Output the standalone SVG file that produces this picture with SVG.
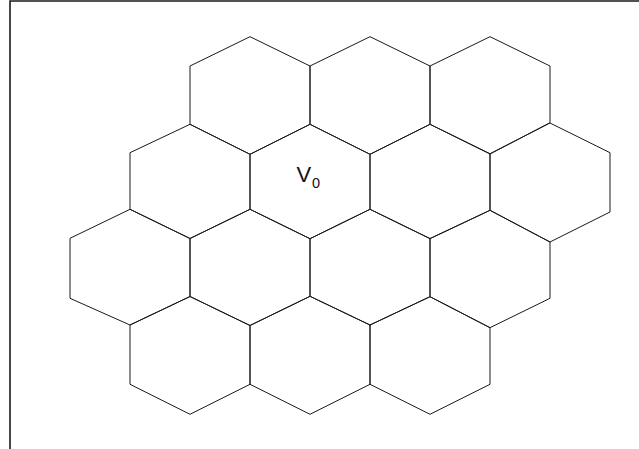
<svg xmlns="http://www.w3.org/2000/svg" width="639" height="449" viewBox="0 0 639 449">
<style>
.hex{fill:none;stroke:#1a1a1a;stroke-width:1;stroke-linejoin:miter}
.frame{fill:none;stroke:#1a1a1a;stroke-width:1.6}
.lbl{font-family:"Liberation Sans",Arial,sans-serif;fill:#111}
</style>
<rect width="639" height="449" fill="#ffffff"/>
<path class="frame" d="M10,449 V1 H639"/>
<g id="row1">
<g id="h1a"><polygon class="hex" points="250,36.7 310,66 310,124.3 250,154.3 190,124.3 190,66"/></g>
<g id="h1b"><polygon class="hex" points="370,36.7 430,66 430,124.3 370,154.3 310,124.3 310,66"/></g>
<g id="h1c"><polygon class="hex" points="490,36.7 550,66 550,122.7 490,154 430,124.3 430,66"/></g>
</g>
<g id="row2">
<g id="h2a"><polygon class="hex" points="190,124.3 250,154.3 250,209.3 190,238.5 130,209.3 130,152.7"/></g>
<g id="h2b"><polygon class="hex" points="310,124.3 370,154.3 370,209.3 310,238.7 250,209.3 250,154.3"/></g>
<g id="h2c"><polygon class="hex" points="430,124.3 490,153.7 490,210.3 430,238.7 370,209.3 370,154.3"/></g>
<g id="h2d"><polygon class="hex" points="550,123 610,152.7 610,212 550,242 490,210.3 490,153.7"/></g>
</g>
<g id="row3">
<g id="h3a"><polygon class="hex" points="130,209.3 190,238.5 190,296.5 130,325 70,298.3 70,238.3"/></g>
<g id="h3b"><polygon class="hex" points="250,209.3 310,238.7 310,296.3 250,325.5 190,296.5 190,238.5"/></g>
<g id="h3c"><polygon class="hex" points="370,209.3 430,238.5 430,296.7 370,325 310,296.3 310,238.7"/></g>
<g id="h3d"><polygon class="hex" points="490,210.3 550,242 550,298.3 490,327.7 430,296.7 430,238.5"/></g>
</g>
<g id="row4">
<g id="h4a"><polygon class="hex" points="190,296.5 250,325.5 250,384.3 190,414.3 130,384.3 130,325"/></g>
<g id="h4b"><polygon class="hex" points="310,296.3 370,325 370,384.3 310,414.3 250,384.3 250,325.5"/></g>
<g id="h4c"><polygon class="hex" points="430,296.7 490,327.7 490,384.3 430,414.3 370,384.3 370,325"/></g>
</g>
<g id="label-v0">
<text class="lbl" x="296.5" y="181.7" font-size="22">V</text>
<text class="lbl" x="312" y="188.3" font-size="14.5">0</text>
</g>
<g id="connectors"/>
</svg>
